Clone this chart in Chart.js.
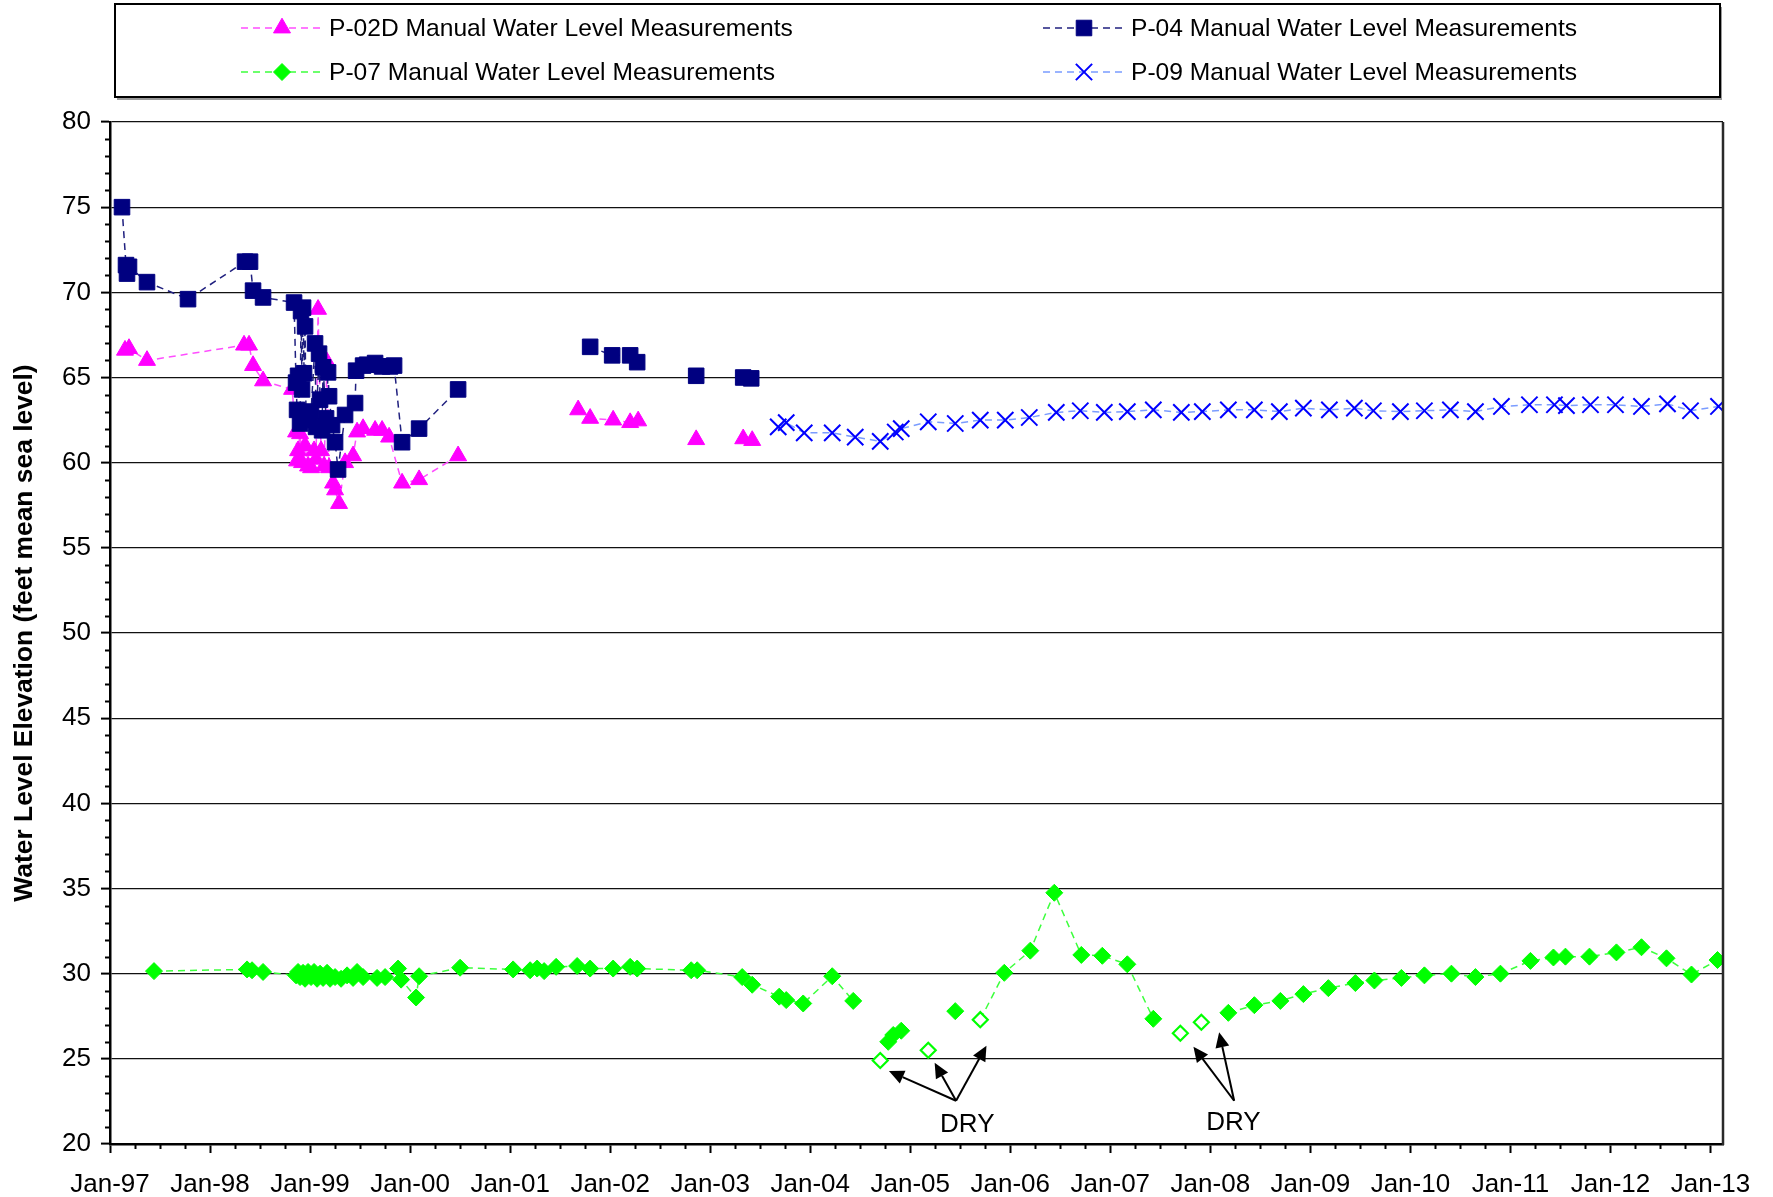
<!DOCTYPE html>
<html>
<head>
<meta charset="utf-8">
<script src="https://cdn.jsdelivr.net/npm/chart.js@4.4.0/dist/chart.umd.min.js"></script>
<style>
html,body{margin:0;padding:0;background:#fff;}
#wrap{width:1773px;height:1197px;position:relative;background:#fff;}
</style>
</head>
<body>
<div id="wrap"><canvas id="c" width="1773" height="1197"></canvas></div>
<script>
// ---------- DATA (decimal years, feet msl) ----------
const xTickValues = [1997,1998,1999,2000,2001,2002,2003,2004,2005,2006,2007,2008,2009,2010,2011,2012,2013];
const xTickLabels = ['Jan-97','Jan-98','Jan-99','Jan-00','Jan-01','Jan-02','Jan-03','Jan-04','Jan-05','Jan-06','Jan-07','Jan-08','Jan-09','Jan-10','Jan-11','Jan-12','Jan-13'];
const yTickValues = [20,25,30,35,40,45,50,55,60,65,70,75,80];

const seriesNames = [
  'P-02D Manual Water Level Measurements',
  'P-04 Manual Water Level Measurements',
  'P-07 Manual Water Level Measurements',
  'P-09 Manual Water Level Measurements'
];

const p02dDates = [1997.15,1997.19,1997.37,1998.34,1998.39,1998.43,1998.53,1998.82,1998.86,1998.87,1998.88,1998.90,1998.92,1998.95,1998.98,1999.01,1999.04,1999.06,1999.08,1999.11,1999.14,1999.17,1999.19,1999.23,1999.25,1999.29,1999.35,1999.43,1999.47,1999.53,1999.65,1999.72,1999.79,1999.92,2000.09,2000.48,2001.00,2001.68,2001.80,2002.03,2002.20,2002.28,2002.50,2002.86,2003.10,2003.33,2003.42];
const p02dValues = [66.6,66.7,66.0,66.9,66.9,65.7,64.8,64.3,61.8,60.1,60.7,61.7,60.0,61.0,59.8,59.7,60.7,60.2,69.0,60.7,59.8,65.9,59.7,58.8,58.4,57.6,60.0,60.4,61.8,62.0,61.9,61.9,61.5,58.8,59.0,60.4,null,63.1,62.6,62.5,62.35,62.45,null,61.35,null,61.4,61.3];

const p04Dates = [1997.12,1997.16,1997.17,1997.19,1997.37,1997.78,1998.35,1998.40,1998.43,1998.53,1998.84,1998.86,1998.87,1998.88,1998.90,1998.91,1998.92,1998.93,1998.94,1998.95,1998.96,1998.98,1999.01,1999.05,1999.06,1999.09,1999.10,1999.12,1999.13,1999.16,1999.18,1999.19,1999.22,1999.25,1999.28,1999.35,1999.45,1999.46,1999.53,1999.57,1999.65,1999.72,1999.80,1999.84,1999.92,2000.09,2000.48,2001.00,2001.80,2002.02,2002.20,2002.27,2002.50,2002.86,2003.10,2003.33,2003.41];
const p04Values = [75.0,71.6,71.1,71.5,70.6,69.6,71.8,71.8,70.1,69.7,69.4,64.7,63.1,65.1,62.3,68.9,64.3,69.1,65.25,68.0,62.5,62.7,63.0,67.0,62.1,66.4,63.7,61.9,65.6,62.6,65.3,63.9,62.2,61.2,59.6,62.8,63.5,65.4,65.7,65.75,65.85,65.65,65.65,65.7,61.2,62.0,64.3,null,66.8,66.3,66.3,65.9,null,65.1,null,65.0,64.95];

const p07Dates = [1997.44,1998.37,1998.42,1998.53,1998.86,1998.88,1998.90,1998.93,1998.95,1998.98,1999.01,1999.04,1999.07,1999.10,1999.13,1999.17,1999.20,1999.25,1999.31,1999.37,1999.43,1999.47,1999.53,1999.67,1999.75,1999.88,1999.91,2000.06,2000.09,2000.50,2001.03,2001.20,2001.27,2001.34,2001.46,2001.67,2001.80,2002.03,2002.20,2002.27,2002.81,2002.87,2003.32,2003.42,2003.69,2003.76,2003.93,2004.22,2004.43,2004.60,2004.70,2004.74,2004.78,2004.83,2004.91,2005.05,2005.18,2005.30,2005.45,2005.60,2005.70,2005.94,2006.20,2006.44,2006.71,2006.92,2007.17,2007.43,2007.60,2007.70,2007.80,2007.91,2008.05,2008.18,2008.44,2008.70,2008.93,2009.18,2009.45,2009.64,2009.91,2010.14,2010.41,2010.65,2010.90,2011.20,2011.43,2011.55,2011.79,2012.06,2012.31,2012.56,2012.81,2013.07];
const p07Values = [30.15,30.25,30.2,30.1,29.9,30.1,29.8,30.05,29.7,30.1,29.8,30.1,29.7,30.0,29.75,30.05,29.7,29.8,29.7,29.9,29.75,30.1,29.8,29.75,29.8,30.3,29.65,28.6,29.85,30.35,30.25,30.2,30.3,30.15,30.4,30.45,30.3,30.3,30.4,30.3,30.2,30.2,29.8,29.35,28.65,28.45,28.25,29.85,28.4,null,24.9,null,26.0,26.4,26.65,null,25.5,null,27.8,null,27.3,30.05,31.35,34.75,31.1,31.05,30.55,27.35,null,26.5,null,27.15,null,27.7,28.15,28.4,28.8,29.15,29.45,29.6,29.75,29.9,30.0,29.8,30.0,30.75,30.95,31.0,31.0,31.25,31.55,30.9,29.95,30.8];
const p07DryDates = [2004.70,2005.18,2005.70,2007.70,2007.91];

const p09Dates = [2003.68,2003.76,2003.94,2004.22,2004.45,2004.70,2004.85,2004.91,2005.18,2005.45,2005.70,2005.95,2006.19,2006.46,2006.70,2006.94,2007.17,2007.43,2007.71,2007.92,2008.18,2008.44,2008.69,2008.93,2009.19,2009.44,2009.63,2009.90,2010.14,2010.40,2010.65,2010.91,2011.19,2011.44,2011.56,2011.80,2012.05,2012.31,2012.57,2012.80,2013.08];
const p09Values = [62.1,62.35,61.75,61.75,61.5,61.25,61.8,62.0,62.4,62.3,62.5,62.5,62.65,62.95,63.05,62.95,63.0,63.1,62.95,63.0,63.1,63.1,63.0,63.2,63.1,63.2,63.05,63.0,63.05,63.1,63.0,63.3,63.4,63.4,63.35,63.4,63.4,63.3,63.45,63.05,63.3];

const dryText = 'DRY';
const dryCallouts = [
  {text:[2005.57,21.1], from:[2005.458,22.54], tips:[[2004.787,24.28],[2005.244,24.77],[2005.762,25.77]]},
  {text:[2008.23,21.27], from:[2008.238,22.54], tips:[[2007.831,25.71],[2008.088,26.56]]}
];

// ---------- BUILD ----------
const FONT = '"Liberation Sans", Arial, Helvetica, sans-serif';
const pts = (d, v) => d.map((x, i) => ({x: x, y: v[i]}));
const isDry = (ctx) => ctx && ctx.raw && p07DryDates.indexOf(ctx.raw.x) >= 0;

const styles = {
  p02d: {line:'#ff4dff', fill:'#ff00ff', shape:'triangle', r:9.8, bw:1},
  p04:  {line:'#20207f', fill:'#000080', shape:'rect', r:11, bw:1},
  p07:  {line:'#3cff3c', fill:'#00ff00', shape:'rectRot', r:8.5, bw:1},
  p09:  {line:'#7a9cff', fill:'#0000ff', shape:'crossRot', r:11.5, bw:2}
};
const DASH = [7,5];

function drawMarker(ctx, shape, x, y, r, fill, stroke, lw) {
  ctx.beginPath();
  if (shape === 'triangle') {
    ctx.moveTo(x, y - r);
    ctx.lineTo(x + 0.866 * r, y + 0.5 * r);
    ctx.lineTo(x - 0.866 * r, y + 0.5 * r);
    ctx.closePath();
  } else if (shape === 'rect') {
    const s = Math.SQRT1_2 * r;
    ctx.rect(x - s, y - s, 2 * s, 2 * s);
  } else if (shape === 'rectRot') {
    ctx.moveTo(x - r, y); ctx.lineTo(x, y - r); ctx.lineTo(x + r, y); ctx.lineTo(x, y + r); ctx.closePath();
  } else if (shape === 'crossRot') {
    const s = Math.SQRT1_2 * r;
    ctx.moveTo(x - s, y - s); ctx.lineTo(x + s, y + s);
    ctx.moveTo(x + s, y - s); ctx.lineTo(x - s, y + s);
  }
  if (shape !== 'crossRot') { ctx.fillStyle = fill; ctx.fill(); }
  ctx.strokeStyle = stroke; ctx.lineWidth = lw; ctx.setLineDash([]); ctx.stroke();
}

const legendPlugin = {
  id: 'boxLegend',
  afterDraw(chart) {
    const ctx = chart.ctx;
    ctx.save();
    ctx.fillStyle = '#9a9a9a';
    ctx.fillRect(117, 97, 1605, 3);
    ctx.fillRect(1720, 7, 2, 93);
    ctx.strokeStyle = '#000'; ctx.lineWidth = 2;
    ctx.strokeRect(115, 4, 1605, 93);
    const items = [
      {name: seriesNames[0], st: styles.p02d, lx: 241, mx: 282, tx: 329, y: 28},
      {name: seriesNames[1], st: styles.p04,  lx: 1043, mx: 1084, tx: 1131, y: 28},
      {name: seriesNames[2], st: styles.p07,  lx: 241, mx: 282, tx: 329, y: 72},
      {name: seriesNames[3], st: styles.p09,  lx: 1043, mx: 1084, tx: 1131, y: 72}
    ];
    items.forEach(it => {
      ctx.beginPath();
      ctx.setLineDash(DASH);
      ctx.strokeStyle = it.st.line; ctx.lineWidth = 1.5;
      ctx.moveTo(it.lx, it.y); ctx.lineTo(it.lx + 82, it.y); ctx.stroke();
      drawMarker(ctx, it.st.shape, it.mx, it.y, it.st.r, it.st.fill, it.st.fill, it.st.bw);
      ctx.fillStyle = '#000';
      ctx.font = '24.6px ' + FONT;
      ctx.textAlign = 'left'; ctx.textBaseline = 'middle';
      ctx.fillText(it.name, it.tx, it.y + 1);
    });
    ctx.restore();
  }
};

const extrasPlugin = {
  id: 'extras',
  afterDraw(chart) {
    const {ctx, chartArea: a, scales: {x, y}} = chart;
    ctx.save();
    ctx.setLineDash([]);
    ctx.strokeStyle = '#000'; ctx.lineWidth = 2;
    // minor ticks y (every 1)
    for (let v = 20; v <= 80; v += 1) {
      if (v % 5 === 0) continue;
      const py = Math.round(y.getPixelForValue(v)) + 0.5;
      ctx.beginPath(); ctx.moveTo(a.left - 5, py); ctx.lineTo(a.left, py); ctx.stroke();
    }
    // minor ticks x (quarters)
    for (let q = 0; q <= 64; q++) {
      const v = 1997 + q * 0.25;
      if (q % 4 === 0 || v > x.max) continue;
      const px = Math.round(x.getPixelForValue(v)) + 0.5;
      ctx.beginPath(); ctx.moveTo(px, a.bottom); ctx.lineTo(px, a.bottom + 5); ctx.stroke();
    }
    // right frame
    ctx.strokeStyle = '#2a2a2a'; ctx.lineWidth = 2.5;
    ctx.beginPath(); ctx.moveTo(a.right, a.top); ctx.lineTo(a.right, a.bottom + 1); ctx.stroke();
    // DRY callouts
    ctx.strokeStyle = '#000'; ctx.fillStyle = '#000'; ctx.lineWidth = 2;
    dryCallouts.forEach(c => {
      const ox = x.getPixelForValue(c.from[0]), oy = y.getPixelForValue(c.from[1]);
      c.tips.forEach(t => {
        const tx = x.getPixelForValue(t[0]), ty = y.getPixelForValue(t[1]);
        const ang = Math.atan2(ty - oy, tx - ox);
        const hl = 15, hw = 7;
        const bx = tx - Math.cos(ang) * hl, by = ty - Math.sin(ang) * hl;
        ctx.beginPath(); ctx.moveTo(ox, oy); ctx.lineTo(bx, by); ctx.stroke();
        ctx.beginPath();
        ctx.moveTo(tx, ty);
        ctx.lineTo(bx + Math.sin(ang) * hw, by - Math.cos(ang) * hw);
        ctx.lineTo(bx - Math.sin(ang) * hw, by + Math.cos(ang) * hw);
        ctx.closePath(); ctx.fill();
      });
      ctx.font = '26px ' + FONT;
      ctx.textAlign = 'center'; ctx.textBaseline = 'middle';
      ctx.fillText(dryText, x.getPixelForValue(c.text[0]), y.getPixelForValue(c.text[1]));
    });
    ctx.restore();
  }
};

const base = {showLine: true, borderWidth: 1.5, borderDash: DASH, spanGaps: false, tension: 0, fill: false};

new Chart(document.getElementById('c'), {
  type: 'scatter',
  data: {
    datasets: [
      Object.assign({}, base, {label: seriesNames[1], data: pts(p04Dates, p04Values), borderColor: styles.p04.line,
        pointStyle: 'rect', pointRadius: styles.p04.r, pointBackgroundColor: styles.p04.fill, pointBorderColor: styles.p04.fill, pointBorderWidth: 1}),
      Object.assign({}, base, {label: seriesNames[0], data: pts(p02dDates, p02dValues), borderColor: styles.p02d.line,
        pointStyle: 'triangle', pointRadius: styles.p02d.r, pointBackgroundColor: styles.p02d.fill, pointBorderColor: styles.p02d.fill, pointBorderWidth: 1}),
      Object.assign({}, base, {label: seriesNames[2], data: pts(p07Dates, p07Values), borderColor: styles.p07.line,
        pointStyle: 'rectRot',
        pointRadius: (ctx) => isDry(ctx) ? 7.5 : styles.p07.r,
        pointBackgroundColor: (ctx) => isDry(ctx) ? '#ffffff' : styles.p07.fill,
        pointBorderColor: styles.p07.fill,
        pointBorderWidth: (ctx) => isDry(ctx) ? 2.2 : 1}),
      Object.assign({}, base, {label: seriesNames[3], data: pts(p09Dates, p09Values), borderColor: styles.p09.line,
        pointStyle: 'crossRot', pointRadius: styles.p09.r, pointBackgroundColor: styles.p09.fill, pointBorderColor: styles.p09.fill, pointBorderWidth: 2})
    ]
  },
  options: {
    responsive: false, animation: false, devicePixelRatio: 1, events: [],
    layout: {padding: {top: 122, right: 50, left: 0, bottom: 0}},
    plugins: {legend: {display: false}, tooltip: {enabled: false}},
    scales: {
      x: {
        type: 'linear', min: 1997, max: 2013.125,
        afterFit: (s) => { s.height = 53; },
        afterBuildTicks: (s) => { s.ticks = xTickValues.map(v => ({value: v})); },
        ticks: {
          autoSkip: false, maxRotation: 0, minRotation: 0, padding: 16, color: '#000',
          font: {family: FONT, size: 26},
          callback: (v) => { const i = xTickValues.indexOf(v); return i >= 0 ? xTickLabels[i] : ''; }
        },
        grid: {drawOnChartArea: false, drawTicks: true, tickLength: 9, tickColor: '#000', tickWidth: 2},
        border: {display: true, color: '#000', width: 2.5}
      },
      y: {
        type: 'linear', min: 20, max: 80,
        afterFit: (s) => { s.width = 110; },
        afterBuildTicks: (s) => { s.ticks = yTickValues.map(v => ({value: v})); },
        ticks: {padding: 10, color: '#000', font: {family: FONT, size: 26}, callback: (v) => String(v)},
        grid: {drawOnChartArea: true, color: '#111', lineWidth: 1.2, drawTicks: true, tickLength: 9, tickColor: '#000', tickWidth: 2},
        border: {display: true, color: '#000', width: 2.5},
        title: {display: true, text: 'Water Level Elevation (feet mean sea level)', color: '#000',
          font: {family: FONT, size: 26.4, weight: 'bold'}, padding: {top: 9, bottom: 0}}
      }
    }
  },
  plugins: [legendPlugin, extrasPlugin]
});
</script>
</body>
</html>
